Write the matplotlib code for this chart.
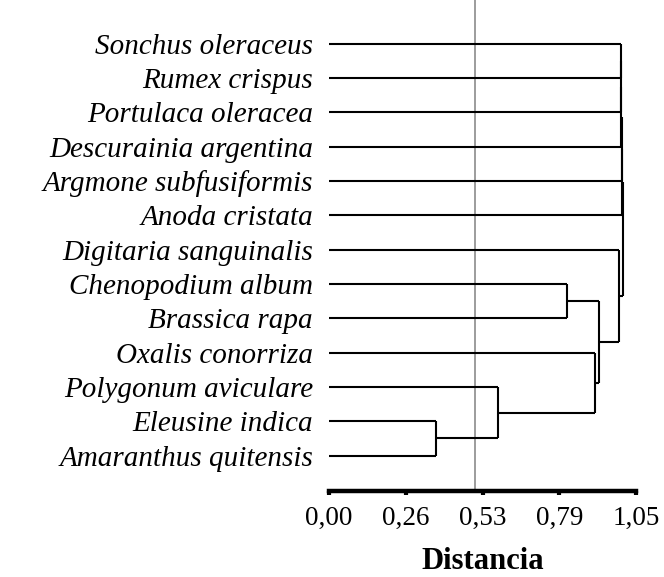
import matplotlib

matplotlib.use("Agg")

import matplotlib.pyplot as plt
import numpy as np

SERIF = ["Liberation Serif", "DejaVu Serif"]

SPECIES = [
    "Sonchus oleraceus",
    "Rumex crispus",
    "Portulaca oleracea",
    "Descurainia argentina",
    "Argmone subfusiformis",
    "Anoda cristata",
    "Digitaria sanguinalis",
    "Chenopodium album",
    "Brassica rapa",
    "Oxalis conorriza",
    "Polygonum aviculare",
    "Eleusine indica",
    "Amaranthus quitensis",
]

# (left node, right node, distance); leaves are 0..12, new clusters get 13, 14, ...
MERGES = [
    (11, 12, 0.365),
    (10, 13, 0.579),
    (9, 14, 0.910),
    (7, 8, 0.815),
    (16, 15, 0.922),
    (6, 17, 0.992),
    (0, 1, 0.998),
    (19, 2, 0.999),
    (20, 3, 1.000),
    (21, 4, 1.001),
    (22, 5, 1.002),
    (23, 18, 1.005),
]

TICK_VALUES = [0.0, 0.2625, 0.525, 0.7875, 1.05]
TICK_LABELS = ["0,00", "0,26", "0,53", "0,79", "1,05"]
CUT_LINE = 0.50


def draw_dendrogram(ax):
    ypos = {i: float(i) for i in range(len(SPECIES))}
    height = {i: 0.0 for i in range(len(SPECIES))}
    node = len(SPECIES)
    for left, right, dist in MERGES:
        for child in (left, right):
            ax.plot([height[child], dist], [ypos[child], ypos[child]],
                    color="black", lw=1.5, solid_capstyle="butt")
        ax.plot([dist, dist], [ypos[left], ypos[right]],
                color="black", lw=1.5, solid_capstyle="butt")
        ypos[node] = (ypos[left] + ypos[right]) / 2
        height[node] = dist
        node += 1


fig = plt.figure(figsize=(6.64, 5.77), dpi=100)
ax = fig.add_axes([329 / 664, 1 - 491 / 577, (636 - 329) / 664, 491 / 577])

ax.axvline(CUT_LINE, color="#9c9c9c", lw=1.4, zorder=0)
draw_dendrogram(ax)

ax.set_xlim(0, 1.05)
ax.set_ylim(13.03, -1.27)

ax.set_yticks(range(len(SPECIES)))
ax.set_yticklabels(SPECIES, family=SERIF, style="italic", fontsize=21)
ax.tick_params(axis="y", length=0, pad=11.5)

ax.set_xticks(TICK_VALUES)
ax.set_xticklabels(TICK_LABELS, family=SERIF, fontsize=19.5)
ax.tick_params(axis="x", direction="out", length=3, width=3, pad=7.5)

for side in ("top", "right", "left"):
    ax.spines[side].set_visible(False)
ax.spines["bottom"].set_linewidth(3.2)

ax.set_xlabel("Distancia", family=SERIF, fontsize=22, fontweight="bold", labelpad=12)

fig.savefig("out.png", dpi=100)
